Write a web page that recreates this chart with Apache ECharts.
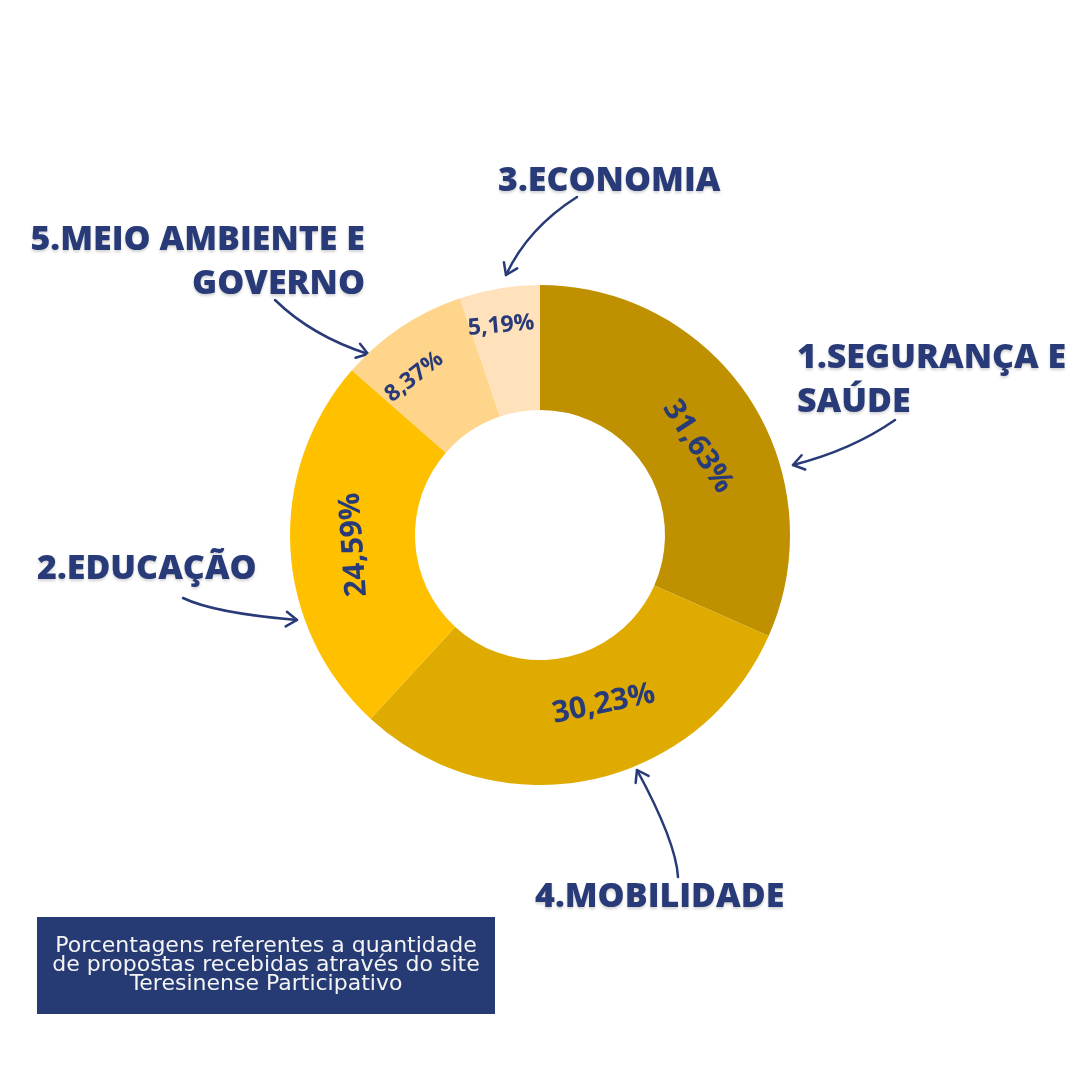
<!DOCTYPE html>
<html lang="pt-BR">
<head>
    <meta charset="UTF-8">
    <title>Propostas - Teresinense Participativo</title>
    <script src="https://cdn.jsdelivr.net/npm/echarts@6/dist/echarts.min.js"></script>
</head>
<style>
    body {
        margin: 0;
        padding: 0;
        background: #ffffff;
    }
    #main {
        width: 1080px;
        height: 1080px;
    }
</style>
<body>
<div id="main"></div>
<script type="text/javascript">
    // dados (sentido horário a partir do topo)
    var categorias = ['1.SEGURANÇA E SAÚDE', '4.MOBILIDADE', '2.EDUCAÇÃO', '5.MEIO AMBIENTE E GOVERNO', '3.ECONOMIA'];
    var valores = [31.63, 30.23, 24.59, 8.37, 5.19];
    var rotulos = ['31,63%', '30,23%', '24,59%', '8,37%', '5,19%'];
    var cores = ['#BF9000', '#E0AB00', '#FFC000', '#FFD58C', '#FFE2BC'];
    var tamanhos = [30, 30, 30, 23, 23];
    // ajustes finos da posicao/rotacao dos rotulos
    var deslocamentos = [[12, 10], [28, -12], [0, 4], [-16, -12], [-6, -22]];
    var rotacoes = ['tangential', 'tangential', 94, 38, 5];

    var azul = '#283B78';
    var myChart = echarts.init(document.getElementById('main'));

    var dados = [];
    for (var i = 0; i < valores.length; i++) {
        dados.push({
            name: categorias[i],
            value: valores[i],
            itemStyle: { color: cores[i] },
            label: {
                formatter: rotulos[i],
                fontSize: tamanhos[i],
                offset: deslocamentos[i],
                rotate: rotacoes[i]
            }
        });
    }

    // titulos das fatias (texto fora do grafico)
    var fonteTitulo = '800 34px "Open Sans", sans-serif';
    function titulo(txt, x, y, align) {
        return {
            type: 'text',
            x: x, y: y,
            style: {
                text: txt,
                font: fonteTitulo,
                fill: azul,
                align: align,
                verticalAlign: 'middle',
                lineHeight: 44,
                textShadowColor: 'rgba(0,0,0,0.18)',
                textShadowBlur: 3,
                textShadowOffsetY: 2
            }
        };
    }

    // setas desenhadas a mao: inicio, controle, ponta
    var setas = [
        [577, 197, 528, 228, 506, 275],
        [275, 300, 312, 336, 368, 354],
        [895, 420, 852, 450, 793, 465],
        [183, 598, 214, 613, 297, 620],
        [678, 877, 676, 842, 637, 770]
    ];
    var graficos = [];
    setas.forEach(function (s) {
        graficos.push({
            type: 'bezierCurve',
            shape: { x1: s[0], y1: s[1], cpx1: s[2], cpy1: s[3], x2: s[4], y2: s[5] },
            style: { stroke: azul, lineWidth: 2.5, fill: null, lineCap: 'round' }
        });
        var ang = Math.atan2(s[5] - s[3], s[4] - s[2]);
        var l = 13, a = 0.6;
        graficos.push({
            type: 'polyline',
            shape: {
                points: [
                    [s[4] - l * Math.cos(ang - a), s[5] - l * Math.sin(ang - a)],
                    [s[4], s[5]],
                    [s[4] - l * Math.cos(ang + a), s[5] - l * Math.sin(ang + a)]
                ]
            },
            style: { stroke: azul, lineWidth: 2.5, fill: null, lineCap: 'round', lineJoin: 'round' }
        });
    });

    graficos.push(titulo('3.ECONOMIA', 498, 181, 'left'));
    graficos.push(titulo('5.MEIO AMBIENTE E\nGOVERNO', 365, 262, 'right'));
    graficos.push(titulo('1.SEGURANÇA E\nSAÚDE', 797, 380, 'left'));
    graficos.push(titulo('2.EDUCAÇÃO', 37, 569, 'left'));
    graficos.push(titulo('4.MOBILIDADE', 535, 897, 'left'));

    // caixa de nota
    graficos.push({
        type: 'rect',
        shape: { x: 37, y: 917, width: 458, height: 97 },
        style: { fill: '#263A73' }
    });
    graficos.push({
        type: 'text',
        x: 266, y: 965,
        style: {
            text: 'Porcentagens referentes a quantidade\nde propostas recebidas através do site\nTeresinense Participativo',
            font: '22px "DejaVu Sans", sans-serif',
            fill: '#F4F4F4',
            align: 'center',
            verticalAlign: 'middle',
            lineHeight: 19
        }
    });

    var option = {
        animation: false,
        backgroundColor: '#ffffff',
        graphic: graficos,
        series: [{
            type: 'pie',
            center: [540, 535],
            radius: [125, 250],
            startAngle: 90,
            clockwise: true,
            avoidLabelOverlap: false,
            emphasis: { disabled: true },
            label: {
                show: true,
                position: 'inside',
                rotate: 'tangential',
                color: azul,
                fontFamily: '"Open Sans", sans-serif',
                fontWeight: 700
            },
            labelLine: { show: false },
            data: dados
        }]
    };
    myChart.setOption(option);
</script>
</body>
</html>
